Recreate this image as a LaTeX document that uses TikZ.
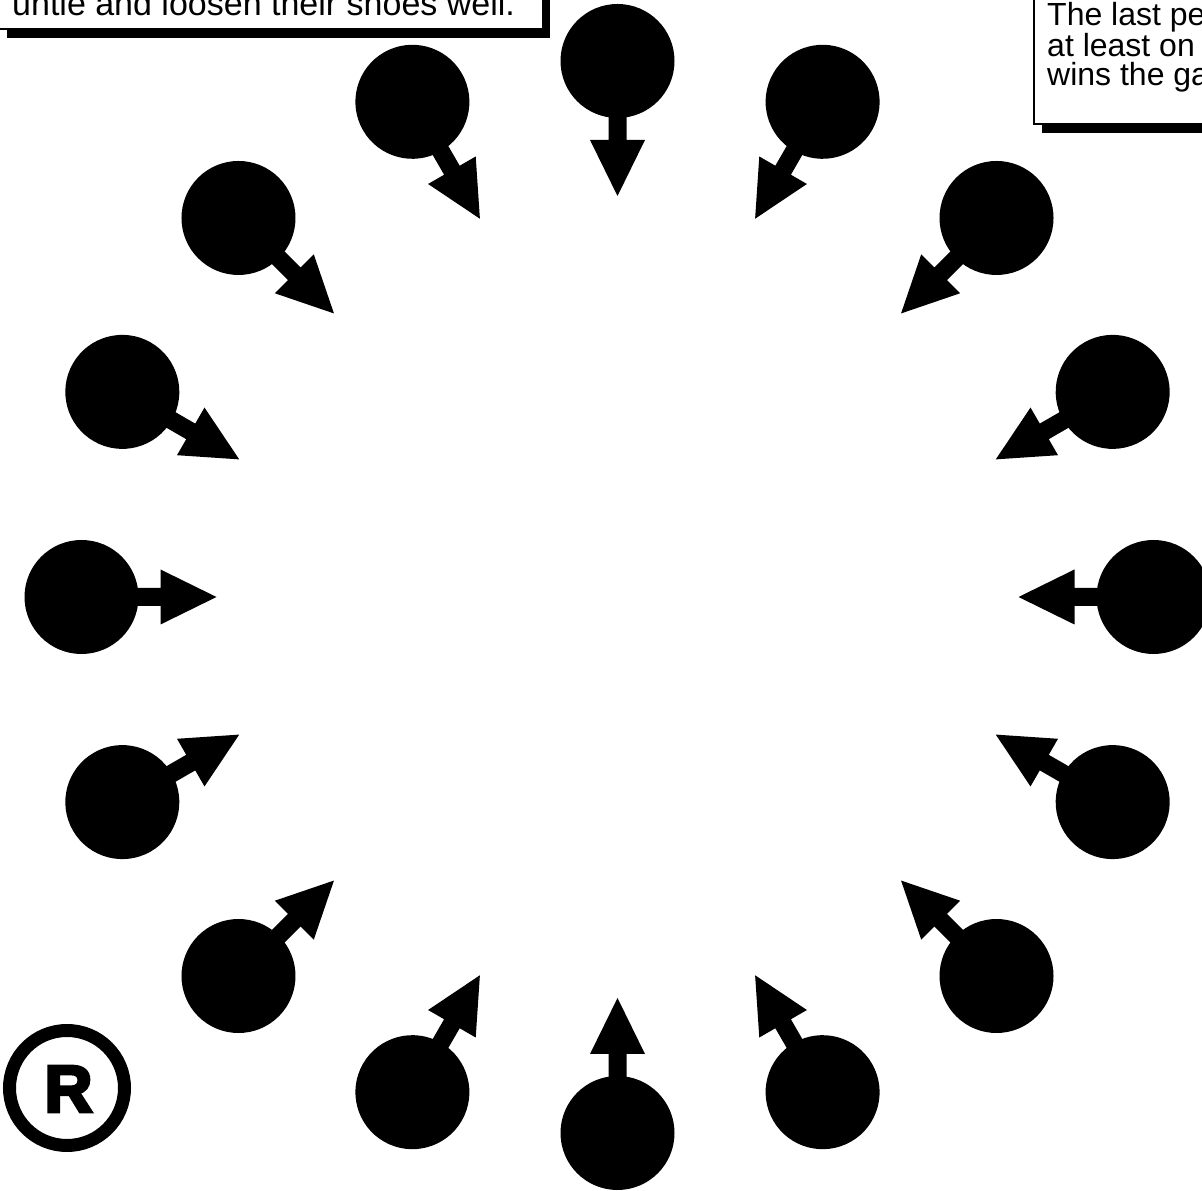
\documentclass[tikz,border=0pt]{standalone}
\usepackage{fontspec}
\setmainfont{Liberation Sans}
\newfontfamily\heavyfont{Liberation Sans}[BoldFeatures={FakeBold=5}]
\usepackage{tikz}
\usetikzlibrary{calc}

\begin{document}
\begin{tikzpicture}[
    x=1pt, y=1pt,
    every node/.style={font=\fontsize{34}{29}\selectfont, inner sep=0pt},
    noteline/.style={anchor=base west},
    notetext/.style={anchor=north west, align=left, font=\fontsize{32}{29}\selectfont},
    notebox/.style={draw=black, line width=1.5pt, fill=white},
    noteshadow/.style={fill=black},
    player/.pic={
        \fill (0,0) circle (\rb);
        \fill (0,-\sw) -- (\hb,-\sw) -- (\hb,-\hw) -- (\tip,0)
            -- (\hb,\hw) -- (\hb,\sw) -- (0,\sw) -- cycle;
    }
]

\def\rb{57}      % player radius
\def\sw{9}       % half stem width
\def\hb{79}      % arrow head base
\def\hw{27.5}    % half head width
\def\tip{135}    % arrow tip
\def\ringr{536}  % ring radius

\useasboundingbox (0,0) rectangle (1202,1191);
\coordinate (ring) at (617.5,594);

% note boxes with shadow
\fill[noteshadow] (7,1153) rectangle (550,1260);
\filldraw[notebox] (-2,1162) rectangle (543,1270);
\node[noteline] (notea) at (12,1175) {untie and loosen their shoes well.};

\fill[noteshadow] (1042,1058) rectangle (1260,1260);
\filldraw[notebox] (1034,1067) rectangle (1270,1270);
\node[notetext] (noteb) at (1047,1189) {The last pe\\at least on\\wins the ga};

% players
\foreach \pos/\dir [count=\i] in {90/270, 67.5/240, 45/225, 22.5/210, 0/180,
    -22.5/150, -45/135, -67.5/120, -90/90, -112.5/60, -135/45, -157.5/30,
    180/0, 157.5/-30, 135/-45, 112.5/-60} {
    \path (ring) ++(\pos:\ringr) pic[rotate=\dir] (p\i) {player};
}

% registered mark
\draw[line width=13pt] (67,103) circle (57.5);
\node[font=\heavyfont\bfseries\fontsize{66}{66}\selectfont] (mark) at (68.5,102) {R};

\end{tikzpicture}
\end{document}
